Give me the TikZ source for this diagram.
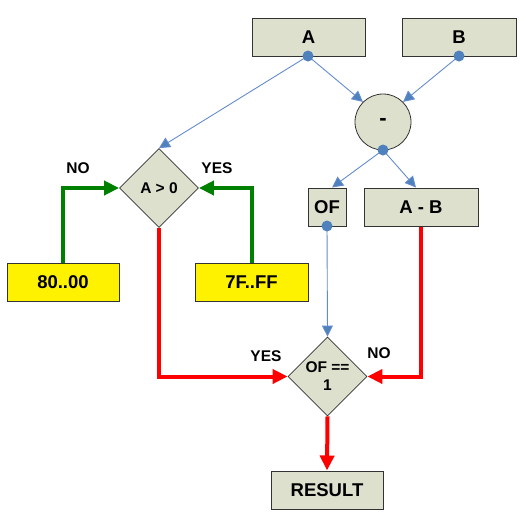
\documentclass[tikz,border=0pt]{standalone}
\usepackage{fontspec}
\setmainfont{Liberation Sans}
\usetikzlibrary{shapes.geometric,arrows.meta}
\definecolor{boxfill}{RGB}{221,224,204}
\definecolor{dotblue}{RGB}{79,129,189}
\definecolor{lineblue}{RGB}{100,140,205}
\definecolor{grn}{RGB}{0,128,0}
\definecolor{rd}{RGB}{255,0,0}
\tikzset{
  box/.style={draw=black!80, line width=1pt, fill=boxfill, inner sep=0pt, font=\fontsize{18.5}{20}\selectfont\bfseries},
  ybox/.style={box, fill=yellow},
  dia/.style={draw=black!80, line width=0.8pt, fill=boxfill, shape=diamond, aspect=1, minimum width=79pt, minimum height=79pt, inner sep=0pt, align=center, font=\fontsize{15.5}{18}\selectfont\bfseries},
  lbl/.style={font=\fontsize{15.5}{18}\selectfont\bfseries, inner sep=0pt},
  bluearr/.style={draw=lineblue, line width=0.9pt, -{Triangle[length=11pt,width=11pt,fill=dotblue]}, shorten >=0pt},
  grnarr/.style={draw=grn, line width=4pt, -{Triangle[length=15pt,width=14pt]}},
  redarr/.style={draw=rd, line width=4pt, -{Triangle[length=15pt,width=14pt]}},
  dot/.style={circle, fill=dotblue, inner sep=0pt, minimum size=11pt},
}
\begin{document}
\begin{tikzpicture}[x=1pt,y=-1pt]
\useasboundingbox (0,0) rectangle (526,520);
% boxes
\node[box, minimum width=113pt, minimum height=38pt] (A) at (308.5,37) {A};
\node[box, minimum width=114pt, minimum height=38pt] (B) at (459,37) {B};
\node[draw=black!80, line width=0.8pt, fill=boxfill, circle, minimum size=56pt, inner sep=0pt, font=\fontsize{22}{24}\selectfont\bfseries] (M) at (383,122) {-};
\node[box, minimum width=38pt, minimum height=38pt] (OF) at (327,207) {OF};
\node[box, minimum width=114pt, minimum height=38pt] (AB) at (421,207) {A - B};
\node[dia] (D1) at (159,188) {A > 0};
\node[ybox, minimum width=112pt, minimum height=38pt] (N) at (63,282) {80..00};
\node[ybox, minimum width=113pt, minimum height=38pt] (P) at (251.5,282) {7F..FF};
\node[dia] (D2) at (327.5,376.5) {OF ==\\1};
\node[box, minimum width=112pt, minimum height=38pt] (R) at (327,490) {RESULT};
% dots
\coordinate (Ad) at (308,56);
\coordinate (Bd) at (459,56);
\coordinate (Md) at (383,150);
\coordinate (OFd) at (327,226);
% blue connectors
\draw[bluearr] (Ad) -- (D1.north);
\draw[bluearr] (Ad) -- (M.135);
\draw[bluearr] (Bd) -- (M.45);
\draw[bluearr] (Md) -- (OF.north -| 332,0);
\draw[bluearr] (Md) -- (AB.north -| 416,0);
\draw[bluearr] (OFd) -- (D2.north);
\node[dot] at (Ad) {};
\node[dot] at (Bd) {};
\node[dot] at (Md) {};
\node[dot] at (OFd) {};
% green connectors
\draw[grnarr] (N.north) |- (D1.west);
\draw[grnarr] (P.north) |- (D1.east);
% red connectors
\draw[redarr] (D1.south) |- (D2.west);
\draw[redarr] (AB.south) |- (D2.east);
\draw[redarr] (D2.south) -- (R.north);
% labels
\node[lbl] (lno1) at (78,168) {NO};
\node[lbl] (lyes1) at (217,168) {YES};
\node[lbl] (lyes2) at (266,356) {YES};
\node[lbl] (lno2) at (379,353) {NO};
\end{tikzpicture}
\end{document}
